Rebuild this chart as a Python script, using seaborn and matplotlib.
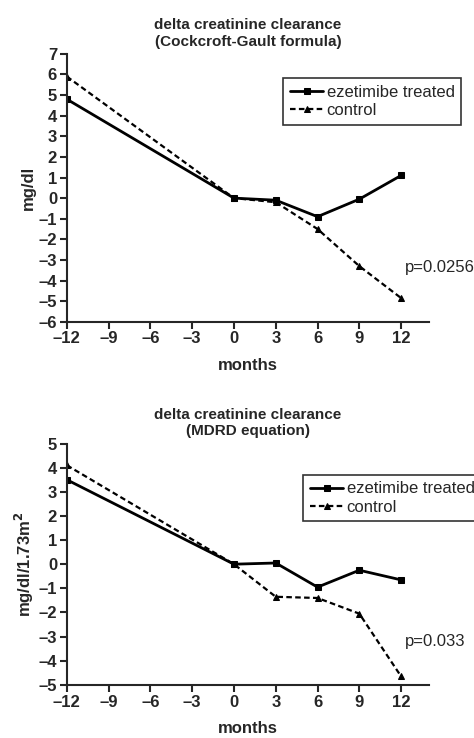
import matplotlib
matplotlib.use("Agg")
import matplotlib.pyplot as plt
import seaborn as sns
import pandas as pd

months = [-12, 0, 3, 6, 9, 12]

cg_ezetimibe = [4.8, 0.0, -0.1, -0.9, -0.05, 1.1]
cg_control = [5.9, 0.0, -0.2, -1.5, -3.3, -4.85]

mdrd_ezetimibe = [3.5, 0.0, 0.05, -0.95, -0.25, -0.65]
mdrd_control = [4.1, 0.0, -1.35, -1.4, -2.05, -4.65]

sns.set_style("ticks")
plt.rcParams['font.family'] = ['Liberation Sans', 'DejaVu Sans']
plt.rcParams['font.size'] = 12

fig = plt.figure(figsize=(4.74, 7.38), dpi=100)
ax1 = fig.add_axes([0.141, 0.564, 0.764, 0.363])
ax2 = fig.add_axes([0.141, 0.072, 0.764, 0.327])


def draw(ax, ez, ctl, title, ylabel, yticks, ptext, py, legend_anchor):
    df = pd.DataFrame({'months': months, 'ez': ez, 'ctl': ctl})
    sns.lineplot(data=df, x='months', y='ez', ax=ax, color='black', lw=2,
                 marker='s', markersize=5, markeredgecolor='black',
                 label='ezetimibe treated')
    sns.lineplot(data=df, x='months', y='ctl', ax=ax, color='black', lw=1.6,
                 linestyle=(0, (2.5, 1.5)), marker='^', markersize=5,
                 markeredgecolor='black', label='control')
    ax.set_xlim(-12, 14)
    ax.set_ylim(yticks[0], yticks[-1])
    ax.set_xticks(range(-12, 13, 3))
    ax.set_xticklabels([str(m).replace('-', '\u2013') for m in range(-12, 13, 3)])
    ax.set_yticks(yticks)
    ax.set_yticklabels([str(v).replace('-', '\u2013') for v in yticks])
    for lab in ax.get_xticklabels() + ax.get_yticklabels():
        lab.set_fontweight('bold')
        lab.set_fontsize(12)
    ax.set_xlabel('months', fontweight='bold', fontsize=12, labelpad=8)
    ax.set_ylabel(ylabel, fontweight='bold', fontsize=12, labelpad=2)
    ax.set_title(title, fontweight='bold', fontsize=11, pad=6)
    for s in ['top', 'right']:
        ax.spines[s].set_visible(False)
    for s in ['left', 'bottom']:
        ax.spines[s].set_linewidth(1.5)
    ax.tick_params(width=1.5, length=5, pad=2)
    ax.text(12.3, py, ptext, fontsize=12, clip_on=False)
    leg = ax.legend(loc='upper left', bbox_to_anchor=legend_anchor, frameon=True,
                    fancybox=False, edgecolor='black', fontsize=12,
                    handlelength=2.0, handletextpad=0.2, borderpad=0.4,
                    labelspacing=0.2)
    leg.get_frame().set_linewidth(1.2)


draw(ax1, cg_ezetimibe, cg_control,
     'delta creatinine clearance\n(Cockcroft-Gault formula)', 'mg/dl',
     list(range(-6, 8)), 'p=0.0256', -3.6, (0.575, 0.94))
draw(ax2, mdrd_ezetimibe, mdrd_control,
     'delta creatinine clearance\n(MDRD equation)', 'mg/dl/1.73m$^\\mathbf{2}$',
     list(range(-5, 6)), 'p=0.033', -3.4, (0.63, 0.905))

fig.savefig('out.png', dpi=100)
